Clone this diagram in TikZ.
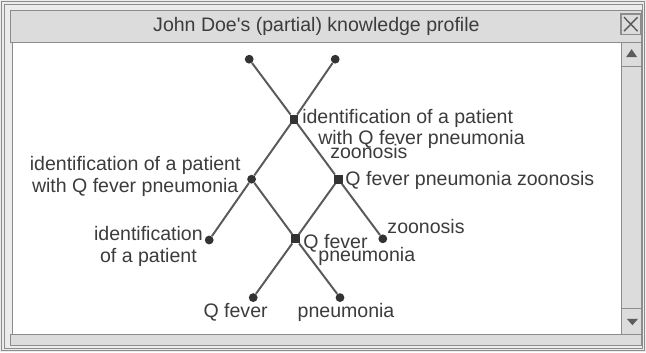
\documentclass[tikz,border=0pt]{standalone}
\usepackage{fontspec}
\setmainfont{Liberation Sans}
\definecolor{ink}{HTML}{3C3C3C}
\definecolor{edgegray}{HTML}{5A5A5A}
\definecolor{dotgray}{HTML}{333333}
\definecolor{barfill}{HTML}{DCDCDC}
\definecolor{framegray}{HTML}{8C8C8C}
\tikzset{
  dot/.style={circle, fill=dotgray, inner sep=0pt, minimum size=2.2mm},
  sqdot/.style={rectangle, fill=dotgray, inner sep=0pt, minimum size=2.2mm},
  lnk/.style={draw=edgegray, line width=1.4pt},
  lab/.style={font=\fontsize{13.9}{16.7}\selectfont, text=ink, inner sep=0pt},
  pane/.style={draw=framegray, line width=0.7pt},
  tri/.style={fill=dotgray!80}
}

\begin{document}
\begin{tikzpicture}
		\useasboundingbox (0,0) rectangle (16.15,8.8);
		% window frame
		\fill[gray!15] (0,0) rectangle (16.15,8.8);
		\draw[framegray] (0.04,0.04) rectangle (16.11,8.76);
		\draw[framegray] (0.1,0.1) rectangle (16.05,8.7);
		\draw[pane, fill=barfill] (0.27,7.73) rectangle (16.03,8.55);
		\draw[pane, fill=barfill] (0.27,0.17) rectangle (16.03,0.45);
		\draw[pane, fill=white] (0.31,0.45) rectangle (15.53,7.73);
		\draw[pane, fill=barfill] (15.53,0.45) rectangle (16.03,7.73);
		\draw[pane] (15.53,7.13) -- (16.03,7.13);
		\draw[pane] (15.53,1.1) -- (16.03,1.1);
		\fill[tri] (15.65,7.37) -- (15.93,7.37) -- (15.79,7.57) -- cycle;
		\fill[tri] (15.67,0.83) -- (15.95,0.83) -- (15.81,0.67) -- cycle;
		\draw[pane, line width=1pt] (15.52,7.94) rectangle (16.02,8.45);
		\draw[edgegray, line width=1pt] (15.6,8.02) -- (15.94,8.37) (15.6,8.37) -- (15.94,8.02);
		\node[lab, anchor=base] (title) at (7.91,8.01) {John Doe\textquotesingle s (partial) knowledge profile};
		% lattice
		\node[dot] (t1) at (6.23,7.32) {};
		\node[dot] (t2) at (8.38,7.32) {};
		\node[sqdot] (x1) at (7.35,5.82) {};
		\node[dot] (l1) at (6.29,4.32) {};
		\node[sqdot] (r1) at (8.46,4.32) {};
		\node[dot] (l2) at (5.23,2.80) {};
		\node[sqdot] (m2) at (7.39,2.83) {};
		\node[dot] (r2) at (9.57,2.83) {};
		\node[dot] (b1) at (6.33,1.36) {};
		\node[dot] (b2) at (8.50,1.36) {};
		\draw[lnk] (t1) -- (x1);
		\draw[lnk] (t2) -- (x1);
		\draw[lnk] (x1) -- (l1);
		\draw[lnk] (x1) -- (r1);
		\draw[lnk] (l1) -- (l2);
		\draw[lnk] (l1) -- (m2);
		\draw[lnk] (r1) -- (m2);
		\draw[lnk] (r1) -- (r2);
		\draw[lnk] (m2) -- (b1);
		\draw[lnk] (m2) -- (b2);
		% labels (base = last line)
		\node[lab, anchor=base west, align=left] (x1txt) at (7.55,4.84) {identification of a patient\\[-1.8pt]\hspace*{4mm}with Q fever pneumonia\\[-6.5pt]\hspace*{7mm}zoonosis};
		\node[lab, anchor=base, align=center] (l1txt) at (3.38,3.99) {identification of a patient\\[-1pt]with Q fever pneumonia};
		\node[lab, anchor=base west] (r1txt) at (8.63,4.16) {Q fever pneumonia zoonosis};
		\node[lab, anchor=base, align=center] (l2txt) at (3.71,2.23) {identification\\[-0.6pt]of a patient};
		\node[lab, anchor=base west, align=left] (m2txt) at (7.58,2.26) {Q fever\\[-7.2pt]\hspace*{3.75mm}pneumonia};
		\node[lab, anchor=base west] (r2txt) at (9.68,2.97) {zoonosis};
		\node[lab, anchor=base] (b1txt) at (5.89,0.86) {Q fever};
		\node[lab, anchor=base] (b2txt) at (8.65,0.86) {pneumonia};
	\end{tikzpicture}
\end{document}
